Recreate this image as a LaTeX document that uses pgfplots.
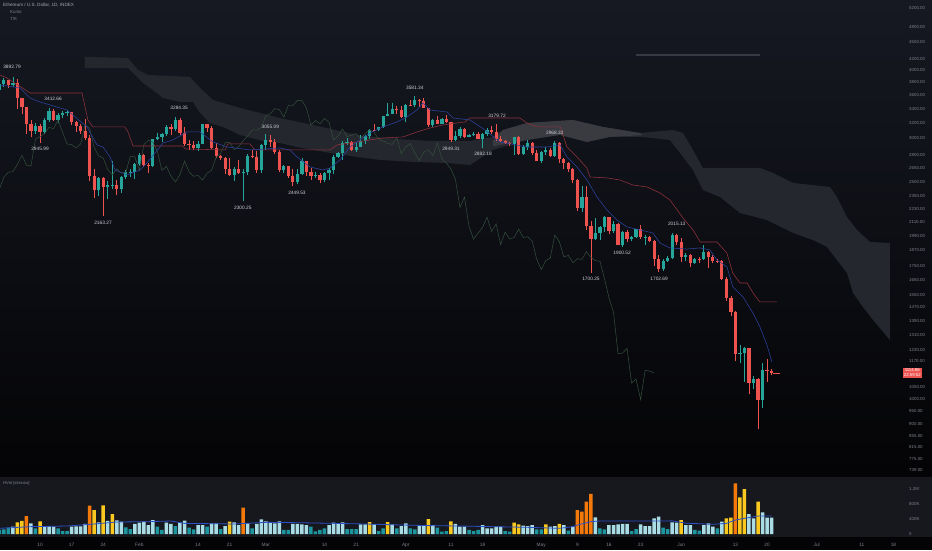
\documentclass[border=0pt]{standalone}
\usepackage{pgfplots}
\pgfplotsset{compat=1.18}
\usepackage{pgfplotstable}
\usepackage{fontspec}
\setmainfont{Liberation Sans}

\definecolor{bgtop}{RGB}{22,25,34}
\definecolor{bgbot}{RGB}{4,4,6}
\definecolor{volbg}{RGB}{22,24,30}
\definecolor{upc}{RGB}{38,166,154}
\definecolor{dnc}{RGB}{239,83,80}
\definecolor{kijun}{RGB}{145,50,60}
\definecolor{tenkan}{RGB}{45,66,160}
\definecolor{chikou}{RGB}{52,80,60}
\definecolor{cloudA}{RGB}{37,39,46}
\definecolor{cloudB}{RGB}{57,59,65}
\definecolor{hlinec}{RGB}{55,58,66}
\definecolor{vteal}{RGB}{30,150,160}
\definecolor{vlight}{RGB}{170,220,230}
\definecolor{vyel}{RGB}{250,200,30}
\definecolor{vora}{RGB}{245,120,10}
\definecolor{vma}{RGB}{45,80,200}
\definecolor{axtext}{RGB}{125,128,138}
\definecolor{lbltext}{RGB}{205,208,215}

\newcommand\tickfont{\fontsize{4.4}{5}\selectfont}
\newcommand\lblfont{\fontsize{4.8}{5.5}\selectfont}

\pgfplotstableread{
d o h l c
0 3683 3770 3682 3769
1 3769 3862 3720 3829
2 3829 3840 3712 3761
3 3761 3893 3730 3794
4 3794 3850 3400 3550
5 3550 3556 3320 3418
6 3418 3420 3060 3193
7 3193 3240 3010 3092
8 3092 3195 3050 3157
9 3157 3190 2946 3083
10 3083 3270 3057 3238
11 3238 3413 3208 3372
12 3372 3398 3232 3245
13 3245 3335 3204 3310
14 3310 3366 3275 3331
15 3331 3380 3295 3350
16 3350 3352 3170 3212
17 3212 3230 3080 3164
18 3164 3185 3055 3098
19 3098 3260 2980 3000
20 3000 3040 2505 2560
21 2560 2630 2330 2407
22 2407 2550 2350 2540
23 2540 2545 2163 2441
24 2441 2500 2320 2461
25 2461 2722 2420 2466
26 2466 2520 2360 2420
27 2420 2560 2385 2546
28 2546 2625 2525 2600
29 2600 2640 2550 2606
30 2606 2700 2530 2688
31 2688 2815 2670 2793
32 2793 2805 2660 2680
33 2680 2705 2590 2668
34 2668 2995 2660 2990
35 2990 3065 2975 3020
36 3020 3065 2950 3058
37 3058 3175 3030 3143
38 3143 3185 3040 3124
39 3124 3284 3100 3240
40 3240 3270 3040 3074
41 3074 3140 2900 2930
42 2930 2980 2860 2920
43 2920 2965 2850 2880
44 2880 2960 2840 2930
45 2930 3190 2925 3180
46 3180 3190 3080 3130
47 3130 3155 2870 2885
48 2885 2940 2760 2785
49 2785 2800 2735 2760
50 2760 2770 2580 2630
51 2630 2760 2560 2570
52 2570 2660 2510 2638
53 2638 2740 2580 2590
54 2590 2640 2300 2600
55 2600 2810 2570 2780
56 2780 2850 2760 2775
57 2775 2840 2590 2620
58 2620 2930 2590 2920
59 2920 3055 2860 2975
60 2975 3040 2890 2950
61 2950 2990 2810 2835
62 2835 2850 2600 2620
63 2620 2680 2590 2665
64 2665 2670 2540 2555
65 2555 2640 2450 2495
66 2495 2640 2470 2575
67 2575 2760 2570 2725
68 2725 2730 2560 2605
69 2605 2650 2520 2555
70 2555 2600 2540 2565
71 2565 2590 2480 2515
72 2515 2605 2490 2590
73 2590 2650 2520 2620
74 2620 2790 2580 2770
75 2770 2830 2760 2815
76 2815 2960 2740 2945
77 2945 3000 2920 2950
78 2950 2960 2840 2860
79 2860 2950 2830 2895
80 2895 3040 2890 2970
81 2970 3040 2930 3030
82 3030 3120 2990 3110
83 3110 3180 3090 3105
84 3105 3150 3100 3140
85 3140 3300 3130 3295
86 3295 3480 3290 3330
87 3330 3480 3320 3400
88 3400 3440 3330 3385
89 3385 3440 3270 3280
90 3280 3465 3210 3450
91 3450 3530 3440 3445
92 3445 3581 3420 3520
93 3520 3540 3420 3515
94 3515 3555 3405 3410
95 3410 3415 3140 3170
96 3170 3260 3150 3235
97 3235 3300 3180 3190
98 3190 3270 3180 3260
99 3260 3310 3200 3210
100 3210 3215 2949 2980
101 2980 3100 2960 3030
102 3030 3140 3000 3120
103 3120 3130 3000 3020
104 3020 3060 3010 3040
105 3040 3080 3030 3060
106 3060 3080 2985 2990
107 2990 3070 2882 3060
108 3060 3130 3030 3105
109 3105 3160 3050 3080
110 3080 3180 2960 2985
111 2985 3030 2950 2965
112 2965 2980 2925 2935
113 2935 2955 2900 2925
114 2925 3020 2800 3010
115 3010 3030 2790 2810
116 2810 2920 2800 2890
117 2890 2980 2860 2935
118 2935 2950 2790 2820
119 2820 2850 2720 2730
120 2730 2840 2700 2830
121 2830 2890 2790 2860
122 2860 2880 2770 2785
123 2785 2968 2775 2940
124 2940 2950 2700 2750
125 2750 2760 2640 2700
126 2700 2710 2600 2635
127 2635 2650 2480 2520
128 2520 2530 2210 2240
129 2240 2450 2200 2340
130 2340 2450 2040 2070
131 2070 2120 1700 1960
132 1960 2140 1955 2010
133 2010 2070 1950 2060
134 2060 2160 2020 2150
135 2150 2155 2000 2025
136 2025 2120 2010 2090
137 2090 2100 1910 1915
138 1915 2030 1900 2020
139 2020 2040 1935 1960
140 1960 1990 1945 1975
141 1975 2050 1970 2045
142 2045 2085 1960 1975
143 1975 1995 1915 1980
144 1980 1990 1935 1945
145 1945 1955 1750 1800
146 1800 1830 1703 1725
147 1725 1800 1715 1790
148 1790 1825 1780 1810
149 1810 2015 1805 1995
150 1995 2000 1910 1940
151 1940 1970 1780 1820
152 1820 1850 1785 1830
153 1830 1840 1740 1775
154 1775 1810 1765 1805
155 1805 1820 1775 1800
156 1800 1915 1795 1860
157 1860 1865 1735 1815
158 1815 1830 1770 1790
159 1790 1800 1775 1785
160 1785 1795 1650 1660
161 1660 1670 1510 1530
162 1530 1545 1420 1440
163 1440 1445 1170 1208
164 1208 1255 1160 1212
165 1212 1245 1075 1236
166 1236 1240 1018 1068
167 1068 1100 1040 1086
168 1086 1090 880 996
169 996 1160 960 1127
170 1127 1180 1075 1123
171 1123 1135 1105 1115
}\ohlc

\pgfplotstableread{
d v cat
0 107 0
1 124 0
2 169 0
3 196 1
4 311 2
5 347 2
6 480 3
7 284 1
8 151 0
9 338 2
10 213 1
11 204 1
12 196 1
13 151 0
14 80 0
15 80 0
16 196 1
17 204 1
18 204 1
19 267 1
20 756 3
21 640 2
22 311 1
23 765 2
24 347 1
25 533 2
26 364 1
27 329 1
28 178 0
29 133 0
30 267 1
31 302 1
32 329 1
33 240 1
34 373 1
35 196 0
36 107 0
37 302 1
38 267 1
39 213 0
40 302 1
41 356 1
42 169 0
43 124 0
44 240 1
45 240 1
46 196 0
47 284 1
48 284 1
49 133 0
50 213 1
51 329 2
52 311 1
53 240 1
54 702 3
55 284 1
56 151 0
57 267 1
58 391 1
59 338 1
60 302 1
61 284 1
62 338 1
63 107 0
64 107 0
65 267 1
66 267 1
67 258 1
68 240 1
69 196 0
70 71 0
71 107 0
72 151 0
73 240 1
74 302 1
75 284 1
76 311 1
77 133 0
78 133 0
79 133 0
80 258 1
81 258 1
82 320 2
83 258 1
84 80 0
85 151 0
86 320 2
87 258 1
88 151 0
89 213 1
90 284 1
91 151 0
92 124 0
93 222 1
94 222 1
95 400 2
96 240 1
97 169 0
98 62 0
99 80 0
100 338 2
101 267 1
102 196 1
103 196 1
104 107 0
105 80 0
106 107 0
107 240 1
108 151 1
109 151 1
110 196 1
111 196 1
112 80 0
113 62 0
114 302 2
115 258 2
116 222 1
117 213 1
118 240 1
119 124 0
120 124 0
121 258 2
122 196 1
123 213 1
124 267 2
125 240 1
126 89 0
127 196 1
128 640 3
129 596 3
130 862 3
131 1067 3
132 445 1
133 151 0
134 124 0
135 240 1
136 240 1
137 258 1
138 267 1
139 267 1
140 80 0
141 133 0
142 258 1
143 213 1
144 213 1
145 418 1
146 462 1
147 169 0
148 133 0
149 311 1
150 302 1
151 373 2
152 240 1
153 240 1
154 107 0
155 89 0
156 240 1
157 284 1
158 196 1
159 151 0
160 329 1
161 418 2
162 436 2
163 1351 3
164 978 2
165 1200 2
166 533 1
167 418 1
168 862 2
169 578 1
170 436 1
171 436 1
}\vol

% build one pair of plots (wick, body) per candle from the OHLC table
\pgfplotstablegetrowsof{\ohlc}
\pgfmathtruncatemacro\lastrow{\pgfplotsretval-1}
\gdef\candleplots{}
\foreach \i in {0,...,\lastrow}{%
  \pgfplotstablegetelem{\i}{d}\of\ohlc \edef\cD{\pgfplotsretval}%
  \pgfplotstablegetelem{\i}{o}\of\ohlc \edef\cO{\pgfplotsretval}%
  \pgfplotstablegetelem{\i}{h}\of\ohlc \edef\cH{\pgfplotsretval}%
  \pgfplotstablegetelem{\i}{l}\of\ohlc \edef\cL{\pgfplotsretval}%
  \pgfplotstablegetelem{\i}{c}\of\ohlc \edef\cC{\pgfplotsretval}%
  \pgfmathtruncatemacro\isup{\cC>=\cO}%
  \ifnum\isup=1 \def\ccol{upc}\else\def\ccol{dnc}\fi
  \xdef\candleplots{\unexpanded\expandafter{\candleplots}%
    \noexpand\addplot[\ccol, line width=0.8pt] coordinates {(\cD,\cL) (\cD,\cH)};%
    \noexpand\addplot[\ccol, line width=3.2pt, line cap=butt] coordinates {(\cD,\cO) (\cD,\cC)};}%
}

\begin{document}
\begin{tikzpicture}
\useasboundingbox (0pt,0pt) rectangle (932pt,550pt);
\clip (0pt,0pt) rectangle (932pt,550pt);
\fill[bgbot] (0pt,0pt) rectangle (932pt,550pt);
\shade[top color=bgtop, bottom color=bgbot] (0pt,74pt) rectangle (932pt,550pt);
\fill[volbg] (0pt,13pt) rectangle (932pt,73pt);

\begin{axis}[
  at={(0pt,74pt)}, anchor=south west,
  width=898pt, height=476pt, scale only axis,
  xmin=0.142, xmax=199,
  ymode=log, ymin=721.7, ymax=5377,
  axis x line=none,
  axis y line*=right,
  axis line style={draw=none},
  tick style={draw=none},
  major tick length=0pt,
  ytick={739,775,815,855,900,950,1000,1050,1170,1230,1310,1390,1470,1550,1650,1750,1870,1990,2110,2230,2350,2500,2650,2800,3000,3200,3400,3600,3800,4000,4200,4500,4800,5200},
  yticklabels={739.00,775.00,815.00,855.00,900.00,950.00,1000.00,1050.00,1170.00,1230.00,1310.00,1390.00,1470.00,1550.00,1650.00,1750.00,1870.00,1990.00,2110.00,2230.00,2350.00,2500.00,2650.00,2800.00,3000.00,3200.00,3400.00,3600.00,3800.00,4000.00,4200.00,4500.00,4800.00,5200.00},
  yticklabel style={font=\tickfont, text=axtext, anchor=west, inner sep=0pt, xshift=11pt},
  clip mode=individual,
]
% Kumo cloud
\addplot[fill=cloudA, draw=none] coordinates {
(18.96,4228) (28.49,4210) (30.7,4002) (32.91,3919) (42.21,3886) (44.43,3710) (47.31,3527) (53.29,3410) (62.14,3268) (69.45,3173) (75.43,3094) (80.52,3030) (88.05,2991) (95.36,2966) (104.22,2966) (109.31,3017) (111.52,3107) (116.84,3200) (127.03,3241) (133.67,3147) (141.86,3068) (149.17,3107) (151.38,3068) (153.6,2856) (155.81,2647) (168.43,2647) (171.31,2592) (175.74,2485) (183.93,2443) (185.48,2342) (187.7,2152) (189.92,2038) (192.8,1937) (197.22,1929)
(197.22,1281) (193.46,1394) (191.25,1472) (189.03,1562) (187.7,1700) (185.48,1795) (183.27,1897) (180.17,1953) (175.74,2012) (169.98,2125) (164.0,2189) (159.57,2342) (155.81,2412) (153.6,2624) (148.5,2979) (142.52,3017) (135.2,3017) (130.12,2954) (124.15,3043) (116.84,2979) (109.31,2856) (104.22,2680) (99.12,2703) (91.6,2715) (84.29,2738) (79.19,2773) (73.22,2820) (65.91,2892) (62.14,2941) (58.38,2966) (53.29,3042) (49.5,3147) (46.64,3200) (44.43,3338) (42.88,3497) (40.0,3497) (36.24,3556) (34.02,3678) (31.8,3789) (30.48,3886) (28.49,4036) (18.96,4036)
};
\addplot[fill=cloudB, draw=none] coordinates {
(109.31,2970) (111.52,3107) (116.84,3200) (127.03,3241) (133.67,3147) (141.86,3068) (142.52,3040) (135.2,3017) (130.12,2954) (124.15,3043) (116.84,2979) (109.31,2900)
};
% horizontal drawing line
\addplot[hlinec, line width=1.2pt] coordinates {(141,4263) (168.4,4263)};
% candles
\candleplots
% Chikou span (close shifted back 26 days)
\addplot[chikou, line width=0.5pt] table[x expr=\thisrow{d}-26, y=c] {\ohlc};
% Kijun
\addplot[kijun, line width=0.55pt] coordinates {
(0.14,3919) (1.7,3869) (6.8,3632) (18.3,3632) (19.6,3241) (20.7,3147) (27.8,3147) (28.5,3081) (29.6,2904) (40.7,2904) (41.1,2868) (50.0,2856) (50.6,2929) (55.5,2929) (56.6,2856) (73.2,2856) (74.8,2917) (79.2,2954) (84.9,3004) (89.4,3017) (92.5,3081) (95.4,3134) (98.2,3173) (101.3,3200) (103.1,3214) (104.2,3268) (115.3,3268) (116.8,3200) (119.1,3147) (124.2,3147) (125.7,2892) (127.9,2773) (130.1,2647) (130.8,2548) (134.6,2538) (137.4,2516) (140.3,2463) (143.4,2443) (146.3,2382) (148.5,2312) (151.4,2143) (153.6,2038) (155.2,1937) (158.9,1937) (161.1,1849) (162.4,1700) (164.0,1629) (165.6,1629) (166.9,1562) (168.4,1504) (172.2,1504)
};
% Tenkan
\addplot[tenkan, line width=0.55pt] coordinates {
(0.14,3757) (4.57,3710) (6.79,3556) (9.0,3497) (11.21,3453) (14.98,3381) (19.4,3147) (21.62,2917) (22.95,2892) (24.5,2773) (25.61,2624) (28.26,2570) (31.14,2624) (32.69,2703) (34.46,2820) (36.24,2941) (38.45,2979) (41.55,3081) (44.43,3081) (47.31,2954) (50.4,2892) (55.5,2856) (62.14,2880) (64.36,2856) (65.91,2773) (68.79,2658) (71.67,2624) (73.22,2647) (75.43,2738) (77.64,2892) (79.86,2979) (82.07,3068) (84.95,3147) (88.05,3214) (90.27,3282) (92.48,3381) (93.81,3482) (95.36,3381) (99.12,3352) (100.45,3268) (104.22,3241) (107.54,3107) (110.86,2954) (116.84,2892) (121.27,2892) (124.15,2917) (125.7,2773) (127.9,2658) (130.12,2516) (132.34,2342) (134.55,2217) (136.77,2125) (138.98,2064) (141.86,2038) (144.74,2012) (146.29,1929) (148.5,1889) (152.27,1880) (155.15,1889) (157.36,1873) (158.91,1795) (161.13,1743) (162.44,1602) (164.67,1536) (166.88,1436) (168.43,1353) (169.98,1254) (171.09,1167)
};
% last price tick
\addplot[dnc, line width=0.6pt] coordinates {(171.4,1114.86) (172.8,1114.86)};
% pivot labels
\node[font=\lblfont, text=lbltext, inner sep=0pt] at (axis cs:2.8,4054) {3892.79};
\node[font=\lblfont, text=lbltext, inner sep=0pt] at (axis cs:11.9,3541) {3412.66};
\node[font=\lblfont, text=lbltext, inner sep=0pt] at (axis cs:9.0,2868) {2945.99};
\node[font=\lblfont, text=lbltext, inner sep=0pt] at (axis cs:22.95,2099) {2163.27};
\node[font=\lblfont, text=lbltext, inner sep=0pt] at (axis cs:39.8,3410) {3284.35};
\node[font=\lblfont, text=lbltext, inner sep=0pt] at (axis cs:53.9,2236) {2300.25};
\node[font=\lblfont, text=lbltext, inner sep=0pt] at (axis cs:60.0,3147) {3055.09};
\node[font=\lblfont, text=lbltext, inner sep=0pt] at (axis cs:65.9,2382) {2449.53};
\node[font=\lblfont, text=lbltext, inner sep=0pt] at (axis cs:92.0,3710) {3581.34};
\node[font=\lblfont, text=lbltext, inner sep=0pt] at (axis cs:100.0,2868) {2949.31};
\node[font=\lblfont, text=lbltext, inner sep=0pt] at (axis cs:110.2,3296) {3179.72};
\node[font=\lblfont, text=lbltext, inner sep=0pt] at (axis cs:107.1,2808) {2882.18};
\node[font=\lblfont, text=lbltext, inner sep=0pt] at (axis cs:123.0,3068) {2968.32};
\node[font=\lblfont, text=lbltext, inner sep=0pt] at (axis cs:131.0,1657) {1700.25};
\node[font=\lblfont, text=lbltext, inner sep=0pt] at (axis cs:137.9,1849) {1900.52};
\node[font=\lblfont, text=lbltext, inner sep=0pt] at (axis cs:146.1,1657) {1702.69};
\node[font=\lblfont, text=lbltext, inner sep=0pt] at (axis cs:150.0,2090) {2015.13};
\node[fill=dnc, text=white, font=\fontsize{4.3}{4.9}\selectfont, align=center, inner sep=1.2pt, anchor=west] at (axis cs:199,1114.86) [xshift=4.5pt] {1114.86\\22:59:52};
\end{axis}

% volume pane
\begin{axis}[
  at={(0pt,13pt)}, anchor=south west,
  width=898pt, height=60pt, scale only axis,
  xmin=0.142, xmax=199,
  ymin=-80, ymax=1520,
  axis x line*=bottom,
  axis y line*=right,
  axis line style={draw=none},
  tick style={draw=none},
  major tick length=0pt,
  ytick={0,400,800,1200},
  yticklabels={0,400K,800K,1.2M},
  yticklabel style={font=\tickfont, text=axtext, anchor=west, inner sep=0pt, xshift=11pt},
  xtick={0,9,16,23,31,44,51,59,72,79,90,100,107,120,128,135,142,151,163,170,181,191,198},
  xticklabels={2022,10,17,24,Feb,14,21,Mar,14,21,Apr,11,18,May,9,16,23,Jun,13,20,Jul,11,18},
  xticklabel style={font=\lblfont, text=axtext, anchor=center, inner sep=0pt, yshift=-8pt},
  clip mode=individual,
]
\addplot[ybar, bar width=3.5pt, bar shift=0pt, fill=vteal, draw=none] table[x=d, y expr={\thisrow{cat}==0 ? \thisrow{v} : nan}] {\vol};
\addplot[ybar, bar width=3.5pt, bar shift=0pt, fill=vlight, draw=none] table[x=d, y expr={\thisrow{cat}==1 ? \thisrow{v} : nan}] {\vol};
\addplot[ybar, bar width=3.5pt, bar shift=0pt, fill=vyel, draw=none] table[x=d, y expr={\thisrow{cat}==2 ? \thisrow{v} : nan}] {\vol};
\addplot[ybar, bar width=3.5pt, bar shift=0pt, fill=vora, draw=none] table[x=d, y expr={\thisrow{cat}==3 ? \thisrow{v} : nan}] {\vol};
\addplot[vma, line width=0.8pt] coordinates {
(0,151) (7,196) (15,213) (21,267) (26,320) (33,329) (38,347) (41,284) (52,267) (59,311) (66,302) (74,284) (81,267) (89,240) (96,222) (102,213) (109,196) (117,178) (124,151) (127,196) (128,240) (131,329) (133,347) (139,347) (146,347) (149,350) (152,290) (158,258) (161,284) (163,373) (165,418) (168,480) (171,480)
};
\end{axis}

% texts
\node[font=\fontsize{4.6}{5}\selectfont, text=lbltext!80!black, anchor=west, inner sep=0pt] at (3pt,545pt) {Ethereum / U.S. Dollar, 1D, INDEX};
\node[font=\fontsize{4.4}{5}\selectfont, text=axtext, anchor=west, inner sep=0pt] at (10pt,538pt) {Kumo};
\node[font=\fontsize{4.4}{5}\selectfont, text=axtext, anchor=west, inner sep=0pt] at (10pt,531pt) {T/K};
\node[font=\fontsize{4.2}{5}\selectfont, text=axtext, anchor=west, inner sep=0pt] at (3pt,67pt) {HVol [sitecow]};
\end{tikzpicture}
\end{document}
